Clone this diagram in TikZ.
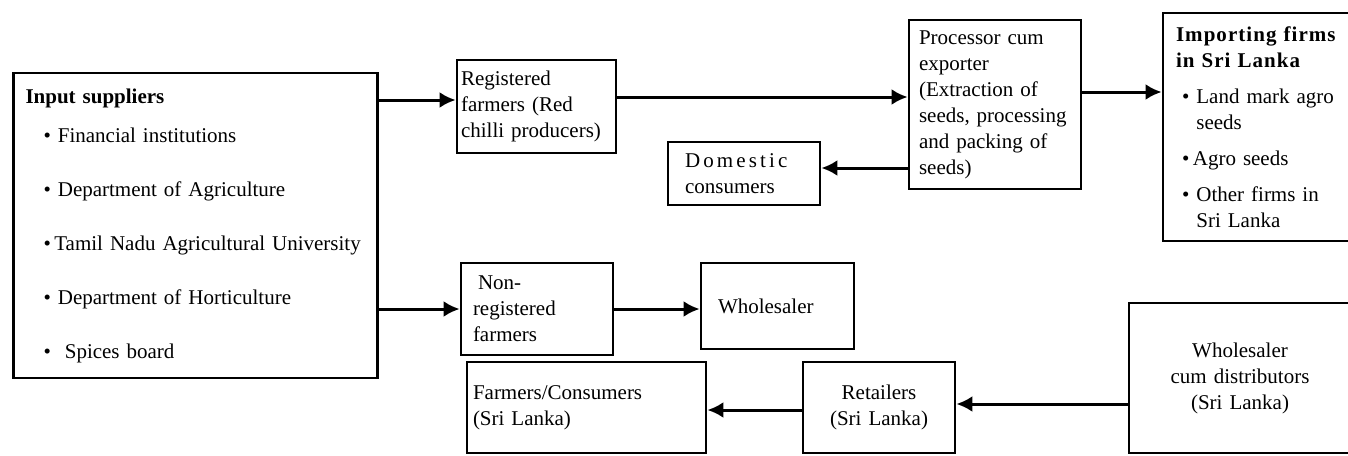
\documentclass[tikz,border=0pt]{standalone}
\usepackage{fontspec}
\setmainfont{Liberation Serif}
\usetikzlibrary{arrows.meta}

\tikzset{
  box/.style={draw,line width=1.4pt,align=left,inner ysep=2pt},
  flow/.style={-{Latex[length=8pt,width=8pt]},line width=1.5pt},
}

\begin{document}
\begin{tikzpicture}[x=0.5pt,y=-0.5pt,font=\fontsize{10.5}{13}\selectfont]
  \useasboundingbox (0,0) rectangle (1348,455);
  \clip (0,0) rectangle (1348,455);
  % input suppliers
  \node[box,text width=170pt,inner xsep=6pt,minimum height=152.5pt] (inp) at (195.5,225.5)
    {\textbf{Input suppliers}\\[6.5pt]
     \hspace*{9pt}\textbullet~Financial institutions\\[14pt]
     \hspace*{9pt}\textbullet~Department of Agriculture\\[14pt]
     \hspace*{9pt}\textbullet\,Tamil Nadu Agricultural University\\[14pt]
     \hspace*{9pt}\textbullet~Department of Horticulture\\[14pt]
     \hspace*{9pt}\textbullet~~Spices board};
  % top row
  \node[box,text width=75.5pt,inner xsep=2pt,minimum height=46.5pt] (reg) at (536.5,106.5)
    {Registered\\farmers (Red\\chilli producers)};
  \node[box,text width=76pt,inner xsep=5pt,minimum height=84.5pt] (proc) at (995,104.5)
    {Processor cum\\exporter\\(Extraction of\\seeds, processing\\and packing of\\seeds)};
  \node[box,text width=95.5pt,inner xsep=6.5pt,minimum height=114pt] (imp) at (1271.5,127)
    {\mbox{\addfontfeature{LetterSpace=5}\textbf{Importing firms}}\\
     \mbox{\addfontfeature{LetterSpace=5}\textbf{in Sri Lanka}}\\[5pt]
     \hspace*{3pt}\textbullet~Land mark agro\\
     \hspace*{3pt}\phantom{\textbullet~}seeds\\[5pt]
     \hspace*{3pt}\textbullet\,Agro seeds\\[5pt]
     \hspace*{3pt}\textbullet~Other firms in\\
     \hspace*{3pt}\phantom{\textbullet~}Sri Lanka};
  \node[box,text width=59pt,inner xsep=8.5pt,minimum height=31.5pt] (dom) at (744,173.5)
    {{\addfontfeature{LetterSpace=15}Domestic}\\consumers};
  % lower rows
  \node[box,text width=64pt,inner xsep=6pt,minimum height=46pt] (nonreg) at (537,309)
    {\hspace*{2.5pt}Non-\\registered\\farmers};
  \node[box,text width=59.5pt,inner xsep=8.5pt,minimum height=43pt] (whole) at (777.5,306)
    {Wholesaler};
  \node[box,text width=113.5pt,inner xsep=3pt,minimum height=45.5pt] (farm) at (586.5,407.5)
    {Farmers/Consumers\\(Sri Lanka)};
  \node[box,align=center,text width=70pt,inner xsep=3pt,minimum height=45.5pt] (ret) at (879,407.5)
    {Retailers\\(Sri Lanka)};
  \node[box,align=center,text width=101pt,inner xsep=5pt,minimum height=75pt] (wcd) at (1240,378)
    {Wholesaler\\cum distributors\\(Sri Lanka)};
  % connectors
  \draw[flow] ([yshift=3.25pt]reg.west -| inp.east) -- ([yshift=3.25pt]reg.west);
  \draw[flow] ([yshift=4.75pt]reg.east) -- ([yshift=4.75pt]reg.east -| proc.west);
  \draw[flow] ([yshift=2.75pt]dom.east -| proc.west) -- ([yshift=2.75pt]dom.east);
  \draw[flow] ([yshift=6.25pt]proc.east) -- ([yshift=6.25pt]proc.east -| imp.west);
  \draw[flow] (nonreg.west -| inp.east) -- (nonreg.west);
  \draw[flow] (nonreg.east) -- (nonreg.east -| whole.west);
  \draw[flow] ([yshift=1.75pt]ret.east -| wcd.west) -- ([yshift=1.75pt]ret.east);
  \draw[flow] ([yshift=-1.25pt]ret.west) -- ([yshift=-1.25pt]ret.west -| farm.east);
\end{tikzpicture}
\end{document}
